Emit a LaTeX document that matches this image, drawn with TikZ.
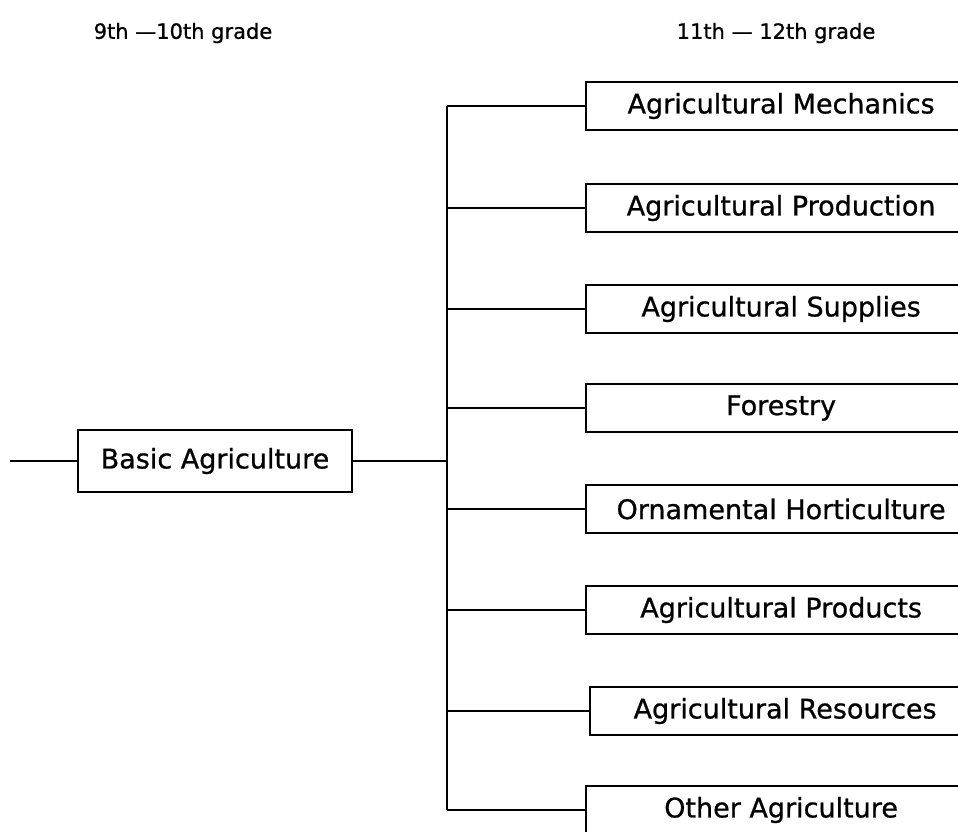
\documentclass[tikz,border=0pt]{standalone}
\usepackage{fontspec}
\setmainfont[FakeBold=0.8]{DejaVu Sans}
\begin{document}
\begin{tikzpicture}[x=1pt,y=-1pt,
  box/.style={draw, line width=2.2pt, inner sep=0pt, font=\fontsize{27}{30}\selectfont},
  leftbox/.style={box, minimum width=274pt, minimum height=62pt},
  rightbox/.style={box, minimum width=390pt, minimum height=48pt, anchor=west},
  head/.style={font=\fontsize{21}{25}\selectfont},
  conn/.style={line width=2.2pt}]
\useasboundingbox (0,0) rectangle (958,831);
\clip (0,0) rectangle (958,831);
\fill[white] (0,0) rectangle (958,831);

\node[head] (h1) at (183,33) {9th —10th grade};
\node[head] (h2) at (776,33) {11th — 12th grade};

\node[leftbox] (basic) at (215,461) {Basic Agriculture};
\coordinate (in) at (10,461);
\coordinate (ttop) at (447,106);
\coordinate (tbot) at (447,810);

\node[rightbox] (r1) at (585,106) {Agricultural Mechanics};
\node[rightbox] (r2) at (585,208) {Agricultural Production};
\node[rightbox] (r3) at (585,309) {Agricultural Supplies};
\node[rightbox] (r4) at (585,408) {Forestry};
\node[rightbox] (r5) at (585,509) {Ornamental Horticulture};
\node[rightbox] (r6) at (585,610) {Agricultural Products};
\node[rightbox] (r7) at (589,711) {Agricultural Resources};
\node[rightbox] (r8) at (585,810) {Other Agriculture};

\draw[conn] (in) -- (basic.west);
\draw[conn] (basic.east) -- (basic.east -| ttop);
\draw[conn] (ttop) -- (tbot);
\foreach \r in {r1,r2,r3,r4,r5,r6,r7,r8}
  \draw[conn] (\r.west -| ttop) -- (\r.west);
\end{tikzpicture}
\end{document}
